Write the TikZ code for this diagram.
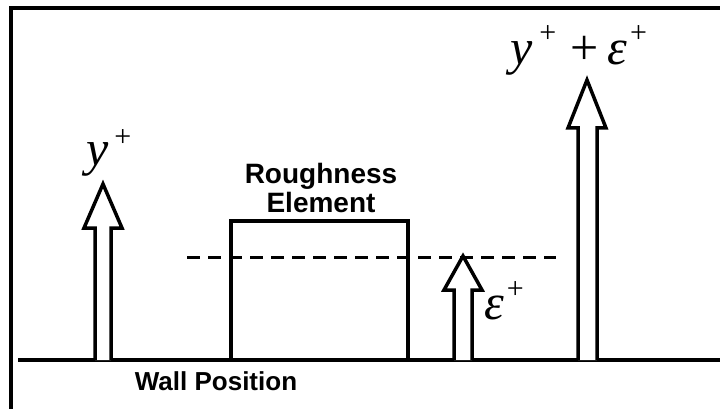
\documentclass[tikz,border=0pt]{standalone}
\usepackage{fontspec}
\setmainfont{Liberation Sans}
\newfontfamily\mathf{Liberation Serif}
\newcommand\bigmath{\fontsize{50}{50}\selectfont}
\newcommand\supmath{\fontsize{30}{30}\selectfont}
\begin{document}
\begin{tikzpicture}[x=1pt,y=-1pt,
  frame/.style={line width=3.5pt},
  wall/.style={line width=4.5pt},
  blockarrow/.style={line width=3.5pt,fill=white,line join=miter},
  element/.style={line width=3.5pt},
  level/.style={line width=3pt,dash pattern=on 13pt off 8pt},
  sanslab/.style={font=\bfseries\fontsize{28}{30}\selectfont,inner sep=0,anchor=base},
  mathlab/.style={font=\mathf\bigmath,inner sep=0,anchor=base west}]
\useasboundingbox (0,0) rectangle (720,409);
% frame
\draw[frame] (11,420) -- (11,8) -- (730,8);
% wall
\coordinate (wl) at (18,360);
\coordinate (wr) at (730,360);
\draw[wall] (wl) -- (wr);
% roughness element
\draw[element] (231,360) -- (231,221) -- (408,221) -- (408,360);
% dashed level
\coordinate (dl) at (187,257);
\coordinate (dr) at (556,257);
\draw[level] (dl) -- (dr);
% arrows
\draw[blockarrow] (95,360) -- (95,228) -- (84,228) -- (103,184) -- (122,228) -- (111,228) -- (111,360);
\draw[blockarrow] (454,360) -- (454,290) -- (444,290) -- (463,256) -- (482,290) -- (472,290) -- (472,360);
\draw[blockarrow] (578,360) -- (578,128) -- (568,128) -- (587,80) -- (606,128) -- (597,128) -- (597,360);
% labels
\node[sanslab] (rough) at (321,183) {Roughness};
\node[sanslab] (elem) at (321,212) {Element};
\node[sanslab,font=\bfseries\fontsize{26}{28}\selectfont] (wallpos) at (216,390) {Wall Position};
\node[mathlab] (ylab) at (86,165) {\textit{y}\kern6pt\raisebox{19pt}{\supmath +}};
\node[mathlab] (elab) at (484,319) {\textit{ε}\kern3pt\raisebox{21pt}{\supmath +}};
\node[mathlab] (yelab) at (510,65) {\textit{y}\kern7pt\raisebox{22pt}{\supmath +}\kern14pt+\kern9pt\textit{ε}\kern3pt\raisebox{22pt}{\supmath +}};
\end{tikzpicture}
\end{document}
